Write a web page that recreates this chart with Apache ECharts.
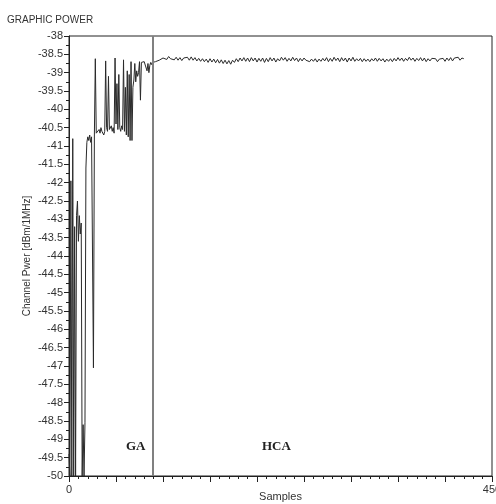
<!DOCTYPE html>
<html>
<head>
<meta charset="utf-8">
<script src="https://cdn.jsdelivr.net/npm/echarts@6/dist/echarts.min.js"></script>
<style>
html,body{margin:0;padding:0;background:#fff;}
#chart{width:496px;height:504px;}
</style>
</head>
<body>
<div id="chart"></div>
<script>
// ---- DATA ----
const titleText = 'GRAPHIC POWER';
const xAxisName = 'Samples';
const yAxisName = 'Channel Pwer [dBm/1MHz]';
const regionLabels = ['GA', 'HCA'];
const regionBoundary = 89;          // sample where GA ends / HCA starts
const xMin = 0, xMax = 450, xInterval = 50;
const yMin = -50, yMax = -38, yInterval = 0.5;

// GA phase: one value per sample, samples 0..89
const gaValues = [
  -49.4, -50, -41.95, -50, -40.8, -50, -43.2, -50, -42.9, -42.5,
  -43.6, -42.9, -43.4, -43.1, -50, -48.6, -50, -48.55, -41.6, -40.9,
  -40.75, -40.85, -40.7, -40.9, -40.75, -40.8, -47.05, -40.7, -38.62, -40.65,
  -40.6, -40.7, -40.55, -40.65, -40.5, -40.6, -40.55, -40.7, -40.6, -38.68,
  -40.5, -40.6, -39.1, -40.55, -40.6, -40.45, -40.6, -40.5, -40.65, -38.6,
  -40.4, -39.3, -40.55, -39.05, -40.5, -40.6, -40.45, -40.55, -38.65, -40.6,
  -39.4, -40.7, -38.95, -40.75, -39.05, -40.85, -38.7, -40.85, -39.4, -39.2,
  -38.75, -39.25, -38.95, -39.1, -39.0, -38.7, -39.75, -38.72, -38.7, -38.75,
  -38.7, -38.72, -38.7, -38.95, -38.75, -39.0, -38.8, -38.72, -38.78, -38.72
];

// HCA phase: samples 90..420, every 2nd sample
const hcaStart = 90, hcaStep = 2;
const hcaValues = [
  -38.74, -38.70, -38.72, -38.66, -38.62, -38.60, -38.57, -38.64, -38.56, -38.62,
  -38.57, -38.65, -38.58, -38.66, -38.59, -38.67, -38.60, -38.64, -38.58, -38.66,
  -38.57, -38.66, -38.59, -38.68, -38.61, -38.69, -38.62, -38.70, -38.63, -38.72,
  -38.62, -38.71, -38.63, -38.73, -38.64, -38.74, -38.65, -38.75, -38.66, -38.76,
  -38.67, -38.77, -38.66, -38.72, -38.62, -38.70, -38.60, -38.68, -38.59, -38.69,
  -38.60, -38.70, -38.59, -38.68, -38.60, -38.71, -38.61, -38.69, -38.60, -38.72,
  -38.61, -38.70, -38.59, -38.68, -38.60, -38.71, -38.62, -38.68, -38.58, -38.66,
  -38.59, -38.69, -38.61, -38.68, -38.58, -38.67, -38.60, -38.70, -38.61, -38.68,
  -38.60, -38.66, -38.62, -38.70, -38.63, -38.69, -38.62, -38.71, -38.63, -38.69,
  -38.61, -38.68, -38.59, -38.70, -38.61, -38.69, -38.58, -38.67, -38.60, -38.70,
  -38.59, -38.68, -38.60, -38.71, -38.60, -38.68, -38.58, -38.69, -38.62, -38.68,
  -38.61, -38.70, -38.62, -38.69, -38.63, -38.70, -38.62, -38.68, -38.60, -38.69,
  -38.61, -38.68, -38.62, -38.71, -38.63, -38.69, -38.62, -38.70, -38.61, -38.68,
  -38.59, -38.67, -38.60, -38.69, -38.61, -38.67, -38.58, -38.66, -38.60, -38.69,
  -38.61, -38.67, -38.59, -38.68, -38.60, -38.70, -38.62, -38.68, -38.61, -38.66,
  -38.62, -38.70, -38.63, -38.68, -38.61, -38.69, -38.60, -38.67, -38.59, -38.68,
  -38.60, -38.65, -38.58, -38.66, -38.60, -38.62
];

// ---- BUILD ----
const seriesData = [];
gaValues.forEach((v, i) => seriesData.push([i, v]));
hcaValues.forEach((v, i) => seriesData.push([hcaStart + i * hcaStep, v]));

const chart = echarts.init(document.getElementById('chart'), null, {renderer: 'canvas'});
const labelFont = 'Liberation Sans, Arial, sans-serif';

chart.setOption({
  animation: false,
  backgroundColor: '#fff',
  title: {
    text: titleText, left: 7, top: 15,
    padding: 0,
    textStyle: {fontFamily: labelFont, fontSize: 10, fontWeight: 'normal', color: '#333'}
  },
  grid: {
    left: 69, right: 4, top: 36, bottom: 28,
    containLabel: false, outerBoundsMode: 'none',
    show: true, borderColor: '#222', borderWidth: 1, backgroundColor: '#fff'
  },
  xAxis: {
    type: 'value', min: xMin, max: xMax, interval: xInterval,
    name: xAxisName, nameLocation: 'middle', nameGap: 15, nameMoveOverlap: false,
    nameTextStyle: {fontFamily: labelFont, fontSize: 11, color: '#333'},
    axisLine: {show: true, lineStyle: {color: '#222', width: 1}},
    axisTick: {show: true, inside: false, length: 6, lineStyle: {color: '#222'}},
    minorTick: {show: true, splitNumber: 5, length: 3, lineStyle: {color: '#222'}},
    splitLine: {show: false},
    axisLabel: {
      fontFamily: labelFont, fontSize: 11, color: '#333', margin: 8,
      showMinLabel: true, showMaxLabel: true, hideOverlap: false,
      formatter: v => (v === xMin || v === xMax) ? String(v) : ''
    }
  },
  yAxis: {
    type: 'value', min: yMin, max: yMax, interval: yInterval,
    name: yAxisName, nameLocation: 'middle', nameGap: 37, nameRotate: 90, nameMoveOverlap: false,
    nameTextStyle: {fontFamily: labelFont, fontSize: 10, color: '#333'},
    axisLine: {show: true, lineStyle: {color: '#222', width: 1}},
    axisTick: {show: true, inside: false, length: 5, lineStyle: {color: '#222'}},
    minorTick: {show: true, splitNumber: 2, length: 3, lineStyle: {color: '#222'}},
    splitLine: {show: false},
    axisLabel: {fontFamily: labelFont, fontSize: 11, color: '#333', margin: 6}
  },
  series: [{
    type: 'line',
    data: seriesData,
    showSymbol: false,
    symbol: 'none',
    smooth: false,
    sampling: null,
    lineStyle: {color: '#2a2a2a', width: 1},
    clip: true,
    markLine: {
      silent: true, symbol: 'none',
      label: {show: false},
      lineStyle: {color: '#808080', width: 2, type: 'solid'},
      data: [{xAxis: regionBoundary}]
    }
  }],
  graphic: [
    {type: 'text', left: 126, top: 440, style: {text: regionLabels[0], font: 'bold 13px "Liberation Serif", serif', fill: '#222'}},
    {type: 'text', left: 262, top: 440, style: {text: regionLabels[1], font: 'bold 13px "Liberation Serif", serif', fill: '#222'}}
  ]
});
</script>
</body>
</html>
